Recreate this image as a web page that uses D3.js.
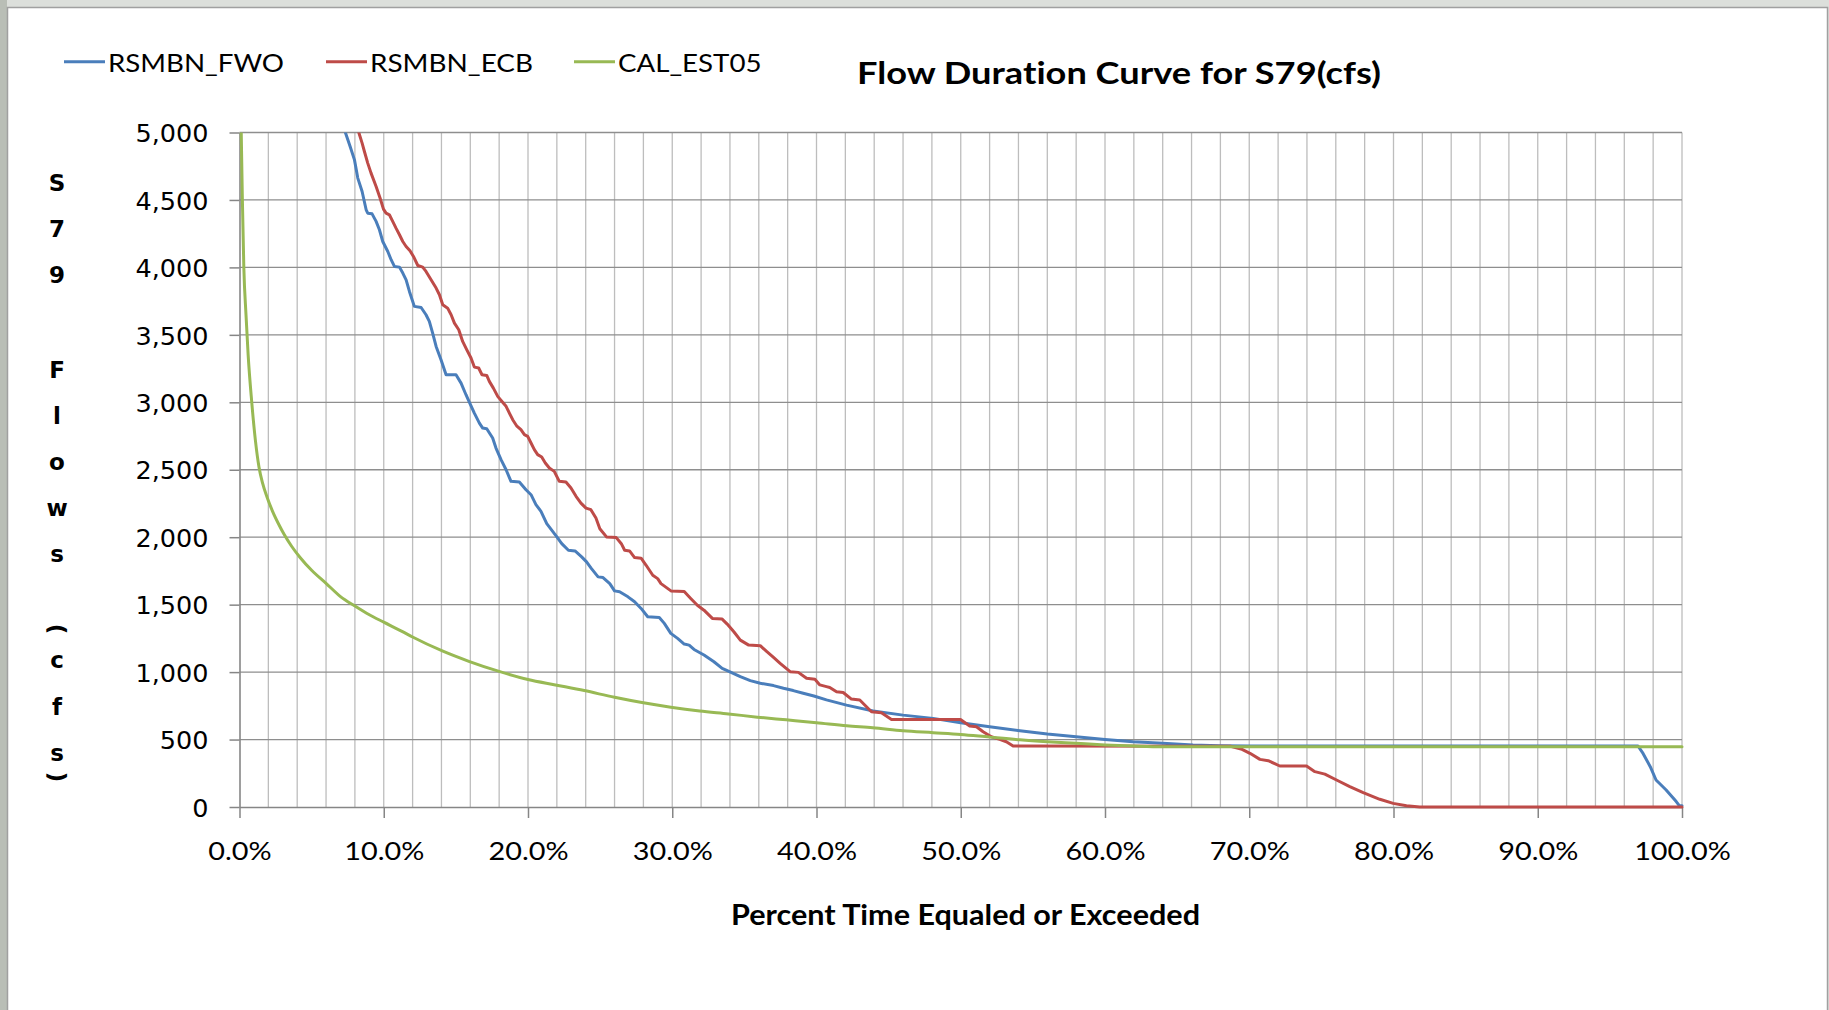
<!DOCTYPE html>
<html><head><meta charset="utf-8">
<script src="https://cdn.jsdelivr.net/npm/d3@7"></script>
<style>body{margin:0;background:#dcdfdb;} svg{display:block} text{font-variant-ligatures:none;font-feature-settings:"liga" 0;}</style>
</head><body>
<svg id="c" width="1829" height="1010"></svg>
<script>
const seriesNames = ["RSMBN_FWO","RSMBN_ECB","CAL_EST05"];
const seriesColors = ["#4A7EBB","#BE4B48","#98B954"];

const fwoPct = [7.34,7.67,7.97,8.2,8.5,8.78,8.89,9.19,9.47,9.7,9.93,10.28,10.51,10.74,11.09,11.32,11.55,11.78,12.12,12.59,12.93,13.16,13.39,13.63,13.97,14.32,15.01,15.36,15.7,15.94,16.28,16.63,16.86,17.14,17.55,17.78,18.13,18.48,18.82,19.4,19.86,20.21,20.55,20.9,21.3,22.0,22.34,22.8,23.26,23.72,24.06,24.4,24.86,25.2,25.67,26.0,26.35,26.93,27.39,27.84,28.3,29.1,29.45,29.9,30.37,30.83,31.17,31.51,32.2,32.89,33.46,33.81,34.72,35.41,36.1,37.02,37.71,38.39,39.08,39.82,40.69,42.08,43.93,46.0,48.08,50.0,52.0,54.1,56.0,58.0,60.0,61.94,64.0,66.1,67.9,70.0,96.95,97.3,97.8,98.2,98.9,99.6,99.8,100];
const fwoFlow = [5000,4896,4797,4662,4563,4427,4402,4397,4341,4279,4192,4118,4057,4007,4002,3958,3908,3822,3711,3703,3649,3600,3513,3414,3315,3204,3204,3142,3056,3000,2920,2846,2809,2804,2735,2661,2575,2500,2414,2409,2352,2315,2241,2192,2100,2002,1952,1903,1898,1854,1817,1767,1706,1701,1656,1602,1595,1558,1521,1472,1410,1405,1361,1287,1250,1208,1200,1168,1127,1077,1028,1011,966,937,917,900,880,863,843,823,794,755,711,681,657,625,595,565,541,521,501,484,472,459,454,452,452,397,299,200,126,40,12,10];

const ecbPct = [8.27,8.5,8.66,8.89,9.12,9.47,9.75,9.98,10.16,10.39,10.62,10.85,11.09,11.32,11.55,11.82,12.06,12.36,12.7,12.93,13.28,13.63,13.86,14.09,14.43,14.67,14.9,15.2,15.47,15.75,16.05,16.28,16.58,16.81,17.14,17.32,17.6,17.9,18.24,18.48,18.71,18.94,19.21,19.51,19.75,19.98,20.21,20.44,20.67,20.95,21.2,21.48,21.82,22.17,22.63,22.98,23.33,23.67,24.02,24.36,24.71,24.98,25.44,26.12,26.47,26.7,27.04,27.39,27.84,28.19,28.65,28.99,29.22,29.91,30.83,31.28,31.74,32.2,32.78,33.46,33.81,34.27,34.72,35.3,36.1,36.56,37.02,37.48,38.17,38.74,39.31,39.89,40.23,40.69,40.92,41.39,41.85,42.42,43.0,43.81,44.5,45.2,49.98,50.62,51.09,51.55,52.12,52.7,53.16,53.63,68.7,69.5,70.05,70.74,71.32,72.12,73.97,74.55,75.24,76.05,76.97,77.9,79.05,79.98,80.9,81.82,100];
const ecbFlow = [5000,4921,4859,4773,4699,4600,4513,4432,4402,4390,4341,4291,4242,4192,4155,4123,4081,4014,4002,3970,3908,3847,3797,3723,3698,3649,3587,3538,3451,3390,3328,3261,3254,3204,3199,3155,3105,3044,3000,2970,2920,2871,2826,2797,2760,2747,2698,2649,2612,2594,2550,2513,2488,2414,2409,2365,2303,2253,2216,2204,2142,2063,2002,1997,1952,1903,1898,1849,1844,1792,1718,1693,1656,1602,1597,1546,1496,1459,1398,1393,1356,1299,1237,1200,1196,1151,1109,1065,1003,998,954,947,905,892,886,854,849,800,793,706,699,649,649,600,595,558,521,501,484,452,450,427,398,353,343,304,304,262,244,200,151,106,57,27,10,0,0];

const calPct = [0.12,0.2,0.3,0.45,0.6,0.85,1.1,1.35,1.6,1.9,2.3,2.7,3.1,3.6,4.2,5.0,6.0,7.0,8.0,9.0,10.0,11.3,12.0,14.1,15.9,18.0,20.0,21.9,23.9,26.0,27.9,29.9,31.9,33.9,35.9,37.9,40.0,42.1,43.9,46.0,48.1,50.0,52.0,54.1,56.0,58.0,60.0,62.0,64.0,100];
const calFlow = [5000,4500,4000,3650,3350,3000,2720,2520,2400,2300,2190,2100,2020,1935,1850,1755,1658,1560,1490,1425,1370,1300,1260,1155,1080,1005,945,905,863,813,774,740,712,690,666,646,625,602,588,565,551,538,518,498,484,472,460,452,447,447];

const xTicks = [0,10,20,30,40,50,60,70,80,90,100];
const xMinor = [2,4,6,8,10,12,14,16,18,20,22,24,26,28,30,32,34,36,38,40,42,44,46,48,50,52,54,56,58,60,62,64,66,68,70,72,74,76,78,80,82,84,86,88,90,92,94,96,98,100];
const yTicks = [0,500,1000,1500,2000,2500,3000,3500,4000,4500,5000];
const titleText = "Flow Duration Curve for S79(cfs)";
const xTitleText = "Percent Time Equaled or Exceeded";
const yTitleText = "S79 Flows (cfs)";

const W = 1829, H = 1010;
const m = {left:239.5, right:1682, top:132.5, bottom:807};
const svg = d3.select("#c");
const x = d3.scaleLinear().domain([0,100]).range([m.left, m.right]);
const y = d3.scaleLinear().domain([0,5000]).range([m.bottom, m.top]);

// background & chart box
svg.append("rect").attr("width",W).attr("height",H).attr("fill","#dcdfdb");
svg.append("rect").attr("x",0).attr("y",0).attr("width",7).attr("height",H).attr("fill","#b9beb6");
svg.append("rect").attr("x",7.5).attr("y",7.5).attr("width",1820).attr("height",1010)
  .attr("fill","#ffffff").attr("stroke","#a0a0a0").attr("stroke-width",1.5);

// gridlines
svg.append("g").selectAll("line").data(xMinor).join("line")
  .attr("x1",d=>x(d)).attr("x2",d=>x(d)).attr("y1",m.top).attr("y2",m.bottom)
  .attr("stroke","#bdbdbd").attr("stroke-width",1.3);
svg.append("g").selectAll("line").data(yTicks.filter(d=>d>0)).join("line")
  .attr("x1",m.left).attr("x2",m.right).attr("y1",d=>y(d)).attr("y2",d=>y(d))
  .attr("stroke","#8e8e8e").attr("stroke-width",1.3);

// axes
const gy = svg.append("g").attr("transform",`translate(${m.left},0)`)
  .call(d3.axisLeft(y).tickValues(yTicks).tickSize(10).tickSizeOuter(0).tickFormat(d3.format(",")));
gy.select(".domain").attr("stroke","#868686").attr("stroke-width",1.6);
gy.selectAll(".tick line").attr("stroke","#868686").attr("stroke-width",1.5);
gy.selectAll(".tick text").attr("font-family","DejaVu Sans").attr("font-size",25.5)
  .attr("fill","#000").attr("x",-31).attr("dy","0.36em");

const gx = svg.append("g").attr("transform",`translate(0,${m.bottom})`)
  .call(d3.axisBottom(x).tickValues(xTicks).tickSize(11).tickSizeOuter(0).tickFormat(d=>d.toFixed(1)+"%"));
gx.select(".domain").attr("stroke","#868686").attr("stroke-width",1.6);
gx.selectAll(".tick line").attr("stroke","#868686").attr("stroke-width",1.5);
const xt = gx.selectAll(".tick text").attr("font-family","Lato").attr("font-size",25.5)
  .attr("fill","#000").attr("y",53).attr("dy",0);
let kx = 1;
xt.each(function(d){ if(d===10) kx = 80/this.getComputedTextLength(); });
xt.each(function(){ const n=this.getComputedTextLength(); d3.select(this).attr("textLength",n*kx).attr("lengthAdjust","spacingAndGlyphs"); });

// lines
svg.append("clipPath").attr("id","pc").append("rect")
  .attr("x",m.left-3).attr("y",m.top).attr("width",m.right-m.left+6).attr("height",m.bottom-m.top+4);
const series = [
  d3.zip(fwoPct, fwoFlow),
  d3.zip(ecbPct, ecbFlow),
  d3.zip(calPct, calFlow)
];
const gl = svg.append("g").attr("clip-path","url(#pc)");
series.forEach((s,i)=>{
  const line = d3.line().x(d=>x(d[0])).y(d=>y(d[1])).curve(i===2 ? d3.curveMonotoneX : d3.curveLinear);
  gl.append("path").datum(s).attr("d",line).attr("fill","none")
    .attr("stroke",seriesColors[i]).attr("stroke-width",3).attr("stroke-linejoin","round").attr("stroke-linecap","round");
});

// legend
const legX = [64, 326, 574];
const legW = [176, 163, 143.5];
seriesNames.forEach((n,i)=>{
  svg.append("line").attr("x1",legX[i]).attr("x2",legX[i]+41).attr("y1",61.7).attr("y2",61.7)
    .attr("stroke",seriesColors[i]).attr("stroke-width",3);
  svg.append("text").attr("x",legX[i]+44).attr("y",71.7).text(n)
    .attr("font-family","Lato").attr("font-size",25.5).attr("fill","#000")
    .attr("textLength",legW[i]).attr("lengthAdjust","spacingAndGlyphs");
});

// titles
svg.append("text").attr("x",857).attr("y",84).text(titleText)
  .attr("font-family","Lato").attr("font-weight","bold").attr("font-size",31).attr("fill","#000")
  .attr("textLength",524).attr("lengthAdjust","spacingAndGlyphs");
svg.append("text").attr("x",731).attr("y",925).text(xTitleText)
  .attr("font-family","Lato").attr("font-weight","bold").attr("font-size",28).attr("fill","#000")
  .attr("textLength",469).attr("lengthAdjust","spacingAndGlyphs");

// stacked y title
const yc = [183,229,275,null,370,416,464,510,556,null,629,662,707,755,777];
const fs = 23;
Array.from(yTitleText).forEach((ch,i)=>{
  if(yc[i]===null || ch===" ") return;
  const cx = 57;
  if(ch==="(" || ch===")"){
    svg.append("text").attr("x",cx).attr("y",yc[i]).text(ch)
      .attr("font-family","DejaVu Sans").attr("font-weight","bold").attr("font-size",fs)
      .attr("text-anchor","middle").attr("dominant-baseline","central")
      .attr("transform",`rotate(90,${cx},${yc[i]})`);
    return;
  }
  const low = "owsc".includes(ch);
  const off = low ? 0.547*fs/2 : 0.73*fs/2;
  svg.append("text").attr("x",cx).attr("y",yc[i]+off).text(ch)
    .attr("font-family","DejaVu Sans").attr("font-weight","bold").attr("font-size",fs)
    .attr("text-anchor","middle").attr("fill","#000");
});
</script>
</body></html>
